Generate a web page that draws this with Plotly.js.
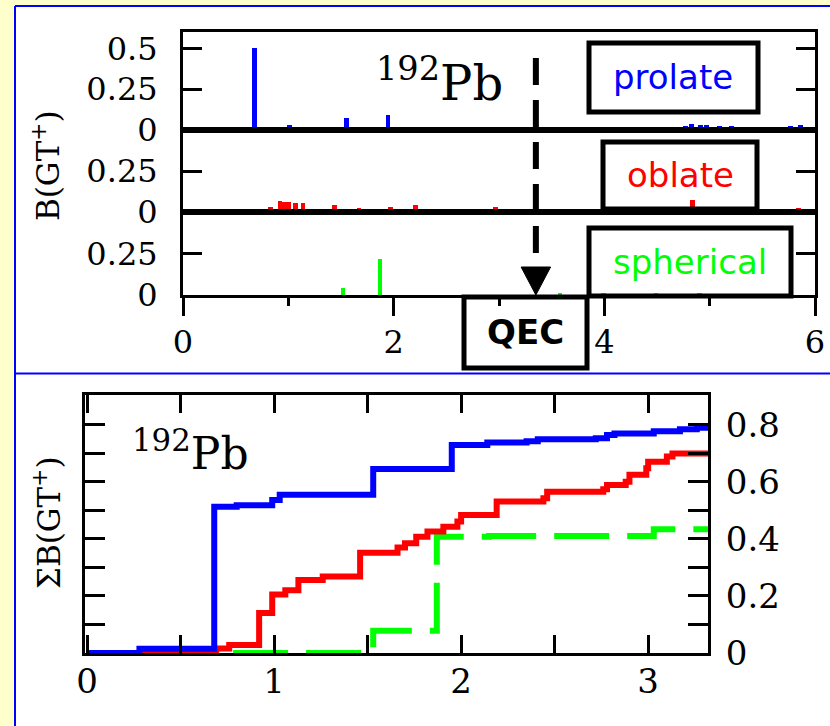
<!DOCTYPE html>
<html>
<head>
<meta charset="utf-8">
<script src="https://cdn.plot.ly/plotly-3.0.1.min.js"></script>
<style>html,body{margin:0;padding:0;background:#FFFFCC;}#chart{width:830px;height:726px;}</style>
</head>
<body>
<div id="chart"></div>
<script>
// ---------- data (top: B(GT+) strength distributions vs excitation energy, MeV) ----------
const prolateE = [0.68, 1.01, 1.555, 1.945, 2.81, 3.35, 4.77, 4.83, 4.91, 4.97, 5.09, 5.21, 5.30, 5.68, 5.77, 5.86];
const prolateB = [0.50, 0.03, 0.075, 0.09, 0.012, 0.012, 0.025, 0.035, 0.03, 0.028, 0.025, 0.025, 0.018, 0.018, 0.025, 0.03];

const oblateE = [0.28, 0.78, 0.83, 0.92, 0.96, 1.00, 1.07, 1.14, 1.25, 1.44, 1.48, 1.67, 1.74, 1.81, 1.90, 1.97, 2.03, 2.21, 2.45, 2.89, 2.97, 3.06, 3.43, 3.73, 4.63, 4.71, 4.80, 4.84, 5.57, 5.84];
const oblateB = [0.015, 0.015, 0.03, 0.065, 0.06, 0.06, 0.055, 0.055, 0.015, 0.045, 0.015, 0.025, 0.02, 0.02, 0.018, 0.03, 0.02, 0.045, 0.015, 0.018, 0.03, 0.018, 0.015, 0.015, 0.015, 0.022, 0.03, 0.075, 0.015, 0.025];

const sphericalE = [1.52, 1.87, 3.58, 3.99, 4.49, 4.90];
const sphericalB = [0.04, 0.215, 0.015, 0.015, 0.015, 0.015];

const QEC = 3.35;

// ---------- data (bottom: accumulated strength) ----------
const cumProlateE = [0, 0.28, 0.68, 0.80, 0.99, 1.03, 1.53, 1.95, 2.14, 2.35, 2.41, 2.72, 2.78, 2.82, 3.03, 3.17, 3.26, 3.32];
const cumProlateB = [0, 0.015, 0.513, 0.518, 0.537, 0.555, 0.645, 0.73, 0.738, 0.743, 0.75, 0.753, 0.765, 0.77, 0.778, 0.785, 0.79, 0.795];

const cumOblateE = [0, 0.69, 0.76, 0.92, 0.99, 1.06, 1.13, 1.26, 1.46, 1.66, 1.70, 1.76, 1.82, 1.905, 1.98, 2.0, 2.19, 2.44, 2.46, 2.76, 2.78, 2.88, 2.90, 2.99, 3.0, 3.10, 3.13, 3.32];
const cumOblateB = [0, 0.016, 0.028, 0.14, 0.205, 0.22, 0.256, 0.268, 0.352, 0.37, 0.385, 0.408, 0.426, 0.443, 0.461, 0.484, 0.531, 0.543, 0.566, 0.574, 0.589, 0.601, 0.625, 0.648, 0.671, 0.689, 0.70, 0.70];

const cumSphericalE = [0, 1.53, 1.87, 2.15, 3.03, 3.32];
const cumSphericalB = [0, 0.078, 0.408, 0.41, 0.434, 0.434];

const topXTicks = [0, 2, 4, 6];
const topXMinor = [1, 3, 5];
const botXTicks = [0, 1, 2, 3];
const botXMinor = [0.5, 1.5, 2.5];
const botYTicks = [0, 0.2, 0.4, 0.6, 0.8];
const botYMinor = [0.1, 0.3, 0.5, 0.7];

// ---------- helpers ----------
const W = 830, H = 726;
const px = v => v / W;
const py = v => 1 - v / H;
const SERIF = 'DejaVu Serif, Liberation Serif, serif';
const COMIC = 'Comic Sans MS, DejaVu Sans, sans-serif';
const BLUE = '#0000FF', RED = '#FF0000', GREEN = '#00FF00';

const frameAxis = {
  showline: true, linecolor: 'black', linewidth: 3, mirror: true,
  showgrid: false, zeroline: false, fixedrange: true,
  tickcolor: 'black', tickfont: {family: SERIF, size: 32, color: 'black'}
};

const barW = 0.045;
const traces = [
  {type: 'bar', x: prolateE, y: prolateB, width: barW, marker: {color: BLUE, line: {width: 0}}, xaxis: 'x', yaxis: 'y', hoverinfo: 'skip'},
  {type: 'bar', x: oblateE, y: oblateB, width: barW, marker: {color: RED, line: {width: 0}}, xaxis: 'x2', yaxis: 'y2', hoverinfo: 'skip'},
  {type: 'bar', x: sphericalE, y: sphericalB, width: barW, marker: {color: GREEN, line: {width: 0}}, xaxis: 'x3', yaxis: 'y3', hoverinfo: 'skip'},
  {type: 'scatter', mode: 'lines', x: cumSphericalE, y: cumSphericalB, line: {color: GREEN, width: 6, shape: 'hv', dash: '55px,18px'}, xaxis: 'x4', yaxis: 'y4', hoverinfo: 'skip'},
  {type: 'scatter', mode: 'lines', x: cumOblateE, y: cumOblateB, line: {color: RED, width: 6, shape: 'hv'}, xaxis: 'x4', yaxis: 'y4', hoverinfo: 'skip'},
  {type: 'scatter', mode: 'lines', x: cumProlateE, y: cumProlateB, line: {color: BLUE, width: 6, shape: 'hv'}, xaxis: 'x4', yaxis: 'y4', hoverinfo: 'skip'}
];

const topDomX = [px(183), px(815)];
const layout = {
  width: W, height: H,
  margin: {l: 0, r: 0, t: 0, b: 0},
  paper_bgcolor: '#FFFFCC', plot_bgcolor: 'white',
  showlegend: false, bargap: 0, hovermode: false, dragmode: false,
  xaxis: Object.assign({}, frameAxis, {domain: topDomX, range: [0, 6], anchor: 'y', ticks: '', showticklabels: false}),
  xaxis2: Object.assign({}, frameAxis, {domain: topDomX, range: [0, 6], anchor: 'y2', ticks: '', showticklabels: false}),
  xaxis3: Object.assign({}, frameAxis, {domain: topDomX, range: [0, 6], anchor: 'y3',
    tickvals: topXTicks, ticktext: topXTicks.map(String), ticks: 'outside', ticklen: 18, tickwidth: 3, ticklabelstandoff: -1,
    minor: {tickvals: topXMinor, ticks: 'outside', ticklen: 8, tickwidth: 3, tickcolor: 'black', showgrid: false}}),
  yaxis: Object.assign({}, frameAxis, {domain: [py(130), py(32)], range: [0, 0.6], anchor: 'x',
    tickvals: [0, 0.25, 0.5], ticktext: ['0', '0.25', '0.5'], ticks: 'inside', ticklen: 19, tickwidth: 3, mirror: 'ticks', ticklabelstandoff: 16}),
  yaxis2: Object.assign({}, frameAxis, {domain: [py(212), py(130)], range: [0, 0.5], anchor: 'x2',
    tickvals: [0, 0.25], ticktext: ['0', '0.25'], ticks: 'inside', ticklen: 19, tickwidth: 3, mirror: 'ticks', ticklabelstandoff: 16}),
  yaxis3: Object.assign({}, frameAxis, {domain: [py(295), py(212)], range: [0, 0.5], anchor: 'x3',
    tickvals: [0, 0.25], ticktext: ['0', '0.25'], ticks: 'inside', ticklen: 19, tickwidth: 3, mirror: 'ticks', ticklabelstandoff: 16}),
  xaxis4: Object.assign({}, frameAxis, {domain: [px(85), px(708)], range: [-0.011, 3.32], anchor: 'y4',
    tickvals: botXTicks, ticktext: botXTicks.map(String), ticks: 'inside', ticklen: 18, tickwidth: 3, mirror: 'ticks', ticklabelstandoff: -4,
    tickfont: {family: SERIF, size: 34, color: 'black'},
    minor: {tickvals: botXMinor, ticks: 'inside', ticklen: 18, tickwidth: 3, tickcolor: 'black', showgrid: false}}),
  yaxis4: Object.assign({}, frameAxis, {domain: [py(653), py(395)], range: [0, 0.905], anchor: 'x4', side: 'right',
    tickvals: botYTicks, ticktext: ['0', '0.2', '0.4', '0.6', '0.8'], ticks: 'inside', ticklen: 20, tickwidth: 3, mirror: 'ticks', ticklabelstandoff: 8,
    tickfont: {family: SERIF, size: 34, color: 'black'},
    minor: {tickvals: botYMinor, ticks: 'inside', ticklen: 20, tickwidth: 3, tickcolor: 'black', showgrid: false}}),
  shapes: [
    // white panels and blue frame
    {type: 'rect', xref: 'paper', yref: 'paper', x0: px(15), x1: 1.01, y0: py(373), y1: py(6), fillcolor: 'white', line: {width: 0}, layer: 'below'},
    {type: 'rect', xref: 'paper', yref: 'paper', x0: px(15), x1: 1.01, y0: -0.01, y1: py(374), fillcolor: 'white', line: {width: 0}, layer: 'below'},
    {type: 'line', xref: 'paper', yref: 'paper', x0: px(15), x1: px(15), y0: -0.01, y1: py(6), line: {color: BLUE, width: 2}},
    {type: 'line', xref: 'paper', yref: 'paper', x0: px(15), x1: 1.01, y0: py(6), y1: py(6), line: {color: BLUE, width: 2}},
    {type: 'line', xref: 'paper', yref: 'paper', x0: px(15), x1: 1.01, y0: py(373.5), y1: py(373.5), line: {color: BLUE, width: 2}},
    // QEC dashed arrow
    {type: 'line', xref: 'x', yref: 'paper', x0: QEC, x1: QEC, y0: py(58), y1: py(268), line: {color: 'black', width: 6, dash: '27px,15px'}},
    {type: 'path', xref: 'x', yref: 'paper', path: `M ${QEC - 0.14},${py(267)} L ${QEC + 0.14},${py(267)} L ${QEC},${py(295)} Z`, fillcolor: 'black', line: {color: 'black', width: 1}},
    // label boxes
    {type: 'rect', xref: 'paper', yref: 'paper', x0: px(589), x1: px(758), y0: py(112), y1: py(43), line: {color: 'black', width: 5}},
    {type: 'rect', xref: 'paper', yref: 'paper', x0: px(603), x1: px(757), y0: py(209), y1: py(142), line: {color: 'black', width: 5}},
    {type: 'rect', xref: 'paper', yref: 'paper', x0: px(589), x1: px(791), y0: py(296), y1: py(228), line: {color: 'black', width: 5}},
    {type: 'rect', xref: 'paper', yref: 'paper', x0: px(464), x1: px(587), y0: py(368), y1: py(297), line: {color: 'black', width: 5}}
  ],
  annotations: [
    {xref: 'paper', yref: 'paper', x: px(673), y: py(77), xanchor: 'center', yanchor: 'middle', text: 'prolate', showarrow: false, font: {family: COMIC, size: 34, color: BLUE}},
    {xref: 'paper', yref: 'paper', x: px(680), y: py(175), xanchor: 'center', yanchor: 'middle', text: 'oblate', showarrow: false, font: {family: COMIC, size: 34, color: RED}},
    {xref: 'paper', yref: 'paper', x: px(690), y: py(262), xanchor: 'center', yanchor: 'middle', text: 'spherical', showarrow: false, font: {family: COMIC, size: 34, color: GREEN}},
    {xref: 'paper', yref: 'paper', x: px(525), y: py(332), xanchor: 'center', yanchor: 'middle', text: '<b>QEC</b>', showarrow: false, font: {family: COMIC, size: 34, color: 'black'}},
    {xref: 'paper', yref: 'paper', x: px(374), y: py(80), xanchor: 'left', yanchor: 'middle', text: '<sup>192</sup>Pb', showarrow: false, font: {family: SERIF, size: 48, color: 'black'}},
    {xref: 'paper', yref: 'paper', x: px(130), y: py(450), xanchor: 'left', yanchor: 'middle', text: '<sup>192</sup>Pb', showarrow: false, font: {family: SERIF, size: 44, color: 'black'}},
    {xref: 'paper', yref: 'paper', x: px(46), y: py(166), xanchor: 'center', yanchor: 'middle', text: 'B(GT<sup>+</sup>)', textangle: -90, showarrow: false, font: {family: SERIF, size: 31, color: 'black'}},
    {xref: 'paper', yref: 'paper', x: px(47), y: py(523), xanchor: 'center', yanchor: 'middle', text: 'ΣB(GT<sup>+</sup>)', textangle: -90, showarrow: false, font: {family: SERIF, size: 31, color: 'black'}}
  ]
};

Plotly.newPlot('chart', traces, layout, {displayModeBar: false}).then(gd => {
  // drop empty placeholder text nodes (unused axis titles)
  gd.querySelectorAll('text').forEach(t => { if (!t.textContent.trim()) t.remove(); });
});
</script>
</body>
</html>
